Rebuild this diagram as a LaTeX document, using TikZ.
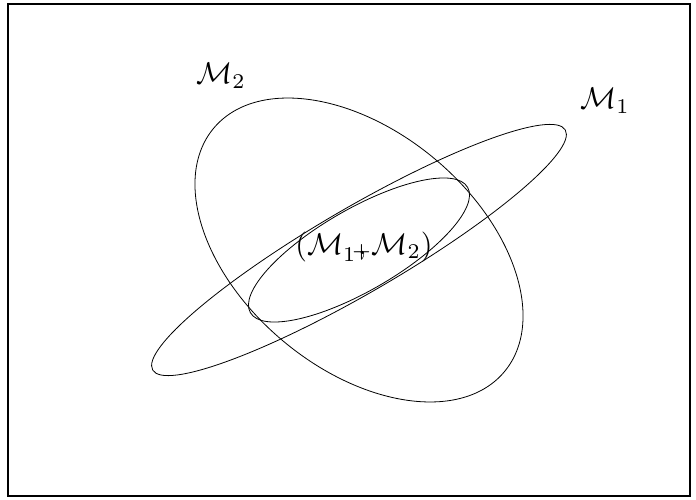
\documentclass[tikz,border=0pt]{standalone}
\usepackage{amsmath,amssymb,mathtools}
\tikzset{
  curve/.style={draw, line width=0.8pt},
  frame/.style={draw, line width=1.8pt},
  lbl/.style={scale=3.0, inner sep=0pt},
}
\begin{document}
\begin{tikzpicture}[x=1pt,y=-1pt]
  \useasboundingbox (0,0) rectangle (696,500);
  \draw[frame] (8,4) rectangle (690,496);
  \coordinate (ctr) at (359,250);
  % the two sets and their common part
  \draw[curve, rotate around={30.2:(ctr)}] (ctr) ellipse [x radius=238.7, y radius=42.6];
  \draw[curve, rotate around={-40:(ctr)}] (ctr) ellipse [x radius=189.6, y radius=118.5];
  \draw[curve, rotate around={30:(ctr)}] (ctr) ellipse [x radius=125.4, y radius=40.9];
  \node[lbl] (mtwo) at (221,76) {$\mathcal{M}_2$};
  \node[lbl] (mone) at (605,101) {$\mathcal{M}_1$};
  \node[lbl] (pair) at (364,247) {$(\mathcal{M}_{1\mathrlap{\mkern-2mu\raisebox{1.6pt}{$\scriptstyle+$}}}\mkern1mu{,}\,\mathcal{M}_2)$};
\end{tikzpicture}
\end{document}
